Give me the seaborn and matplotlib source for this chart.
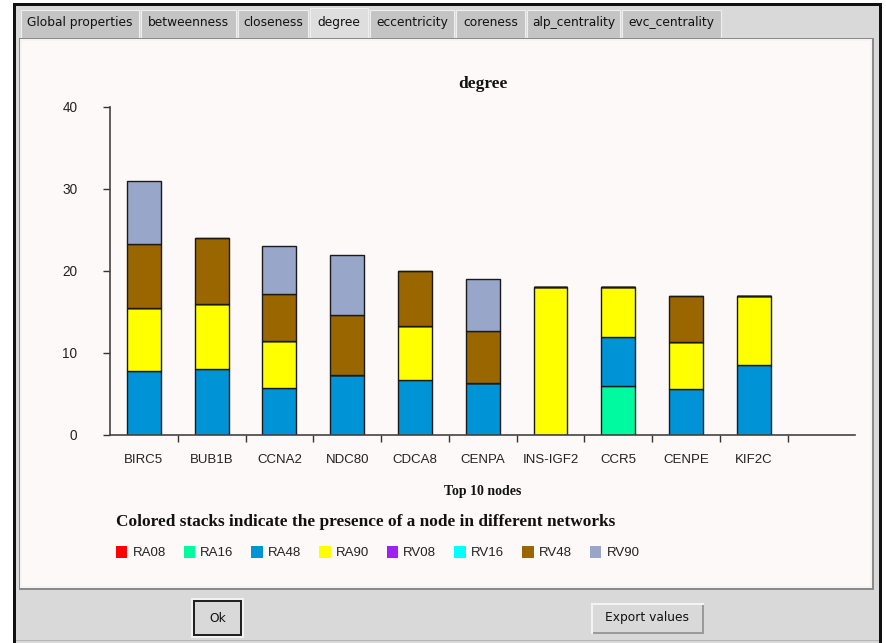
import numpy as np
import pandas as pd
import matplotlib
matplotlib.use("Agg")
import matplotlib.pyplot as plt
from matplotlib.patches import Rectangle
import seaborn as sns

# ---- data -------------------------------------------------------------
nodes = ["BIRC5", "BUB1B", "CCNA2", "NDC80", "CDCA8",
         "CENPA", "INS-IGF2", "CCR5", "CENPE", "KIF2C"]
networks = ["RA08", "RA16", "RA48", "RA90", "RV08", "RV16", "RV48", "RV90"]
net_colors = ["#ff0000", "#00fa9f", "#0094d6", "#ffff00",
              "#a020f0", "#00ffff", "#996600", "#98a6ca"]

# degree contribution of each node per network (stack segments)
ra08 = [0, 0, 0, 0, 0, 0, 0, 0, 0, 0]
ra16 = [0, 0, 0, 0, 0, 0, 0, 6, 0, 0]
ra48 = [7.75, 8, 5.75, 7.33, 6.67, 6.33, 0, 6, 5.67, 8.5]
ra90 = [7.75, 8, 5.75, 0, 6.67, 0, 18, 6, 5.67, 8.5]
rv08 = [0, 0, 0, 0, 0, 0, 0, 0, 0, 0]
rv16 = [0, 0, 0, 0, 0, 0, 0, 0, 0, 0]
rv48 = [7.75, 8, 5.75, 7.33, 6.67, 6.33, 0, 0, 5.67, 0]
rv90 = [7.75, 0, 5.75, 7.33, 0, 6.33, 0, 0, 0, 0]
series = [ra08, ra16, ra48, ra90, rv08, rv16, rv48, rv90]

y_ticks = [0, 10, 20, 30, 40]
tabs = ["Global properties", "betweenness", "closeness", "degree",
        "eccentricity", "coreness", "alp_centrality", "evc_centrality"]
tab_edges = [20, 140, 237, 309, 369, 455, 526, 621, 722]

rows = []
for net, vals in zip(networks, series):
    for i, v in enumerate(vals):
        rows.append({"pos": i, "network": net, "value": v})
df = pd.DataFrame(rows)

# ---- figure -----------------------------------------------------------
W, H = 887, 643
fig = plt.figure(figsize=(W / 100, H / 100), dpi=100)
fig.patch.set_facecolor("white")


def fx(x):
    return x / W


def fy(y):
    return 1 - y / H


def rect(x0, y0, x1, y1, fc, ec="none", lw=0, z=0):
    fig.patches.append(Rectangle((fx(x0), fy(y1)), fx(x1) - fx(x0),
                                 fy(y0) - fy(y1), transform=fig.transFigure,
                                 facecolor=fc, edgecolor=ec, linewidth=lw,
                                 zorder=z))


GRAY = "#d9d9d9"
PANEL = "#fdf9f8"

# window frame and body
rect(13, 3, 882, 645, "#111111", z=0)
rect(16, 6, 879, 645, GRAY, z=1)
rect(16, 640, 879, 641, "#b5b5b5", z=1)

# notebook tabs
for k, name in enumerate(tabs):
    x0, x1 = tab_edges[k] + 1, tab_edges[k + 1] - 1
    sel = name == "degree"
    rect(x0, 8 if sel else 10, x1, 38, "#dedede" if sel else "#c4c4c4",
         ec="#efefef", lw=0.8, z=2)
    fig.text(fx((x0 + x1) / 2), fy(22.5), name, ha="center", va="center",
             fontsize=8.8, family="DejaVu Sans", color="#111111", zorder=3)

# content panel with bevel
rect(19, 38, 874, 590, "#8a8a8a", z=2)
rect(20, 39, 872, 588, "#f4f4f4", z=2)
rect(22, 41, 870, 586, PANEL, z=2)

# dialog buttons
rect(191, 598, 244, 638, "#f2f2f2", z=2)
rect(193, 600, 242, 636, "#222222", z=2)
rect(195, 602, 240, 634, GRAY, z=3)
fig.text(fx(217.5), fy(618), "Ok", ha="center", va="center", fontsize=8.8,
         family="DejaVu Sans", color="#111111", zorder=4)
rect(591, 603, 704, 634, "#f4f4f4", z=2)
rect(593, 605, 704, 634, "#9a9a9a", z=2)
rect(593, 605, 702, 632, GRAY, z=3)
fig.text(fx(647), fy(618), "Export values", ha="center", va="center",
         fontsize=8.8, family="DejaVu Sans", color="#111111", zorder=4)

# ---- chart ------------------------------------------------------------
ax_l, ax_r, ax_b, ax_t = 110, 855.5, 435, 107
ax = fig.add_axes([fx(ax_l), fy(ax_b), fx(ax_r) - fx(ax_l), fy(ax_t) - fy(ax_b)])
ax.set_zorder(5)
ax.patch.set_alpha(0)

palette = dict(zip(networks, net_colors))
sns.histplot(data=df, x="pos", weights="value", hue="network",
             hue_order=networks[::-1], palette=palette, multiple="stack",
             discrete=True, shrink=0.5, alpha=1, edgecolor="#1a1a1a",
             linewidth=1.0, legend=False, ax=ax)

ax.set_xlim(-0.5, 10.5)
ax.set_ylim(0, 40)
ax.set_yticks(y_ticks)
ax.set_yticklabels([str(t) for t in y_ticks], family="Liberation Sans",
                   fontsize=9.8, color="#222222")
ax.set_xticks(np.arange(len(nodes)) + 0.5)
ax.set_xticklabels([])
ax.set_xticks(np.arange(len(nodes)), minor=True)
ax.set_xticklabels(nodes, minor=True, family="Liberation Sans",
                   fontsize=9.5, color="#222222")
ax.tick_params(axis="x", which="major", length=5, width=1, color="#333333",
               direction="out")
ax.tick_params(axis="x", which="minor", length=0, pad=13.5)
ax.tick_params(axis="y", length=5, width=1, color="#333333", pad=18.5)
for s in ("top", "right"):
    ax.spines[s].set_visible(False)
for s in ("left", "bottom"):
    ax.spines[s].set_color("#444444")
    ax.spines[s].set_linewidth(1.2)
ax.set_ylabel("")
ax.set_xlabel("Top 10 nodes", family="Liberation Serif", fontweight="bold",
              fontsize=10, color="#111111")
ax.xaxis.set_label_coords(0.5, -(492 - ax_b) / (ax_b - ax_t))
ax.xaxis.label.set_va("center")
ax.text(0.5, 1 + (ax_t - 84) / (ax_b - ax_t), "degree", transform=ax.transAxes,
        ha="center", va="center", family="Liberation Serif",
        fontweight="bold", fontsize=12.5, color="#111111")

# legend caption and swatches
fig.text(fx(116), fy(522), "Colored stacks indicate the presence of a node in different networks",
         ha="left", va="center", family="Liberation Serif", fontweight="bold",
         fontsize=12.45, color="#111111", zorder=6)
for k, (net, col) in enumerate(zip(networks, net_colors)):
    x0 = 116 + k * 67.7
    rect(x0, 546, x0 + 11.5, 557.5, col, z=6)
    fig.text(fx(x0 + 16.5), fy(552.5), net, ha="left", va="center",
             family="Liberation Sans", fontsize=9.5, color="#222222", zorder=6)

fig.savefig("out.png", dpi=100, facecolor=fig.get_facecolor())
